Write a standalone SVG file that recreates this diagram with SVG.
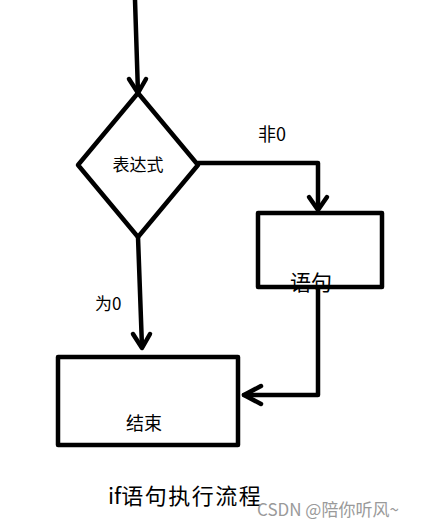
<svg xmlns="http://www.w3.org/2000/svg" width="430" height="529" viewBox="0 0 430 529">
<style>
.s{fill:none;stroke:#000;stroke-width:4.5;stroke-linecap:round;stroke-linejoin:round}
.b{fill:#fff;stroke:#000;stroke-width:4.5;stroke-linejoin:round}
.t{font-family:"Noto Sans CJK SC","Liberation Sans",sans-serif;fill:#000}
</style>
<rect width="430" height="529" fill="#fff"/>
<g id="connectors">
<path class="s" d="M135,0 L138,93"/>
<path class="s" d="M129,79 L138,93 L146,79"/>
<path class="s" d="M198,163 L318,163 L318,209"/>
<path class="s" d="M309,197 L318,210 L327,197"/>
<path class="s" d="M318,287 L318,395 L244,395"/>
<path class="s" d="M261,386 L244,395 L261,404"/>
<path class="s" d="M138,237 L142,347"/>
<path class="s" d="M133,334 L142,348 L150,334"/>
</g>
<g id="decision">
<path class="b" d="M138,93 L198,165 L138,237 L78,165 Z"/>
<text class="t" x="138" y="171" font-size="17" text-anchor="middle">表达式</text>
</g>
<g id="statement">
<rect x="258" y="213" width="124" height="74" fill="#fff"/>
<text class="t" x="311" y="290" font-size="21" text-anchor="middle">语句</text>
<rect class="s" x="258" y="213" width="124" height="74" stroke-linecap="butt"/>
</g>
<g id="end">
<rect class="b" x="58" y="357" width="180" height="88"/>
<text class="t" x="144" y="430" font-size="18" text-anchor="middle">结束</text>
</g>
<g id="labels">
<text class="t" x="258" y="141" font-size="18">非0</text>
<text class="t" x="95" y="310" font-size="17">为0</text>
<text class="t" x="108" y="504" font-size="22">if<tspan letter-spacing="1.5">语句执行流程</tspan></text>
<text x="257" y="516" font-size="17" fill="#9a9a9a" font-family="Noto Sans CJK SC,Liberation Sans,sans-serif">CSDN @陪你听风~</text>
</g>
</svg>
